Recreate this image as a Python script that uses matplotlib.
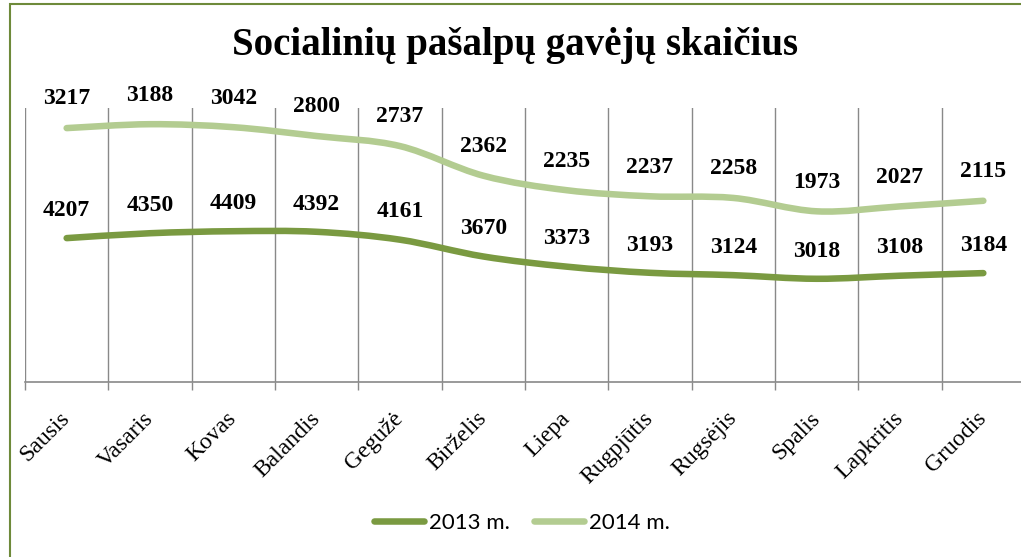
import numpy as np
import matplotlib
matplotlib.use("Agg")
import matplotlib.pyplot as plt
from matplotlib.path import Path
from matplotlib.patches import PathPatch, Rectangle
from matplotlib.lines import Line2D

# Chart data
months = ["Sausis", "Vasaris", "Kovas", "Balandis", "Gegužė", "Birželis",
          "Liepa", "Rugpjūtis", "Rugsėjis", "Spalis", "Lapkritis", "Gruodis"]
values_2013 = [4207, 4350, 4409, 4392, 4161, 3670, 3373, 3193, 3124, 3018, 3108, 3184]
values_2014 = [3217, 3188, 3042, 2800, 2737, 2362, 2235, 2237, 2258, 1973, 2027, 2115]
series_names = ["2013 m.", "2014 m."]

color_2013 = "#7A9A41"
color_2014 = "#B3CC91"
serif = "Liberation Serif"


def smooth_path(xs, ys):
    # Catmull-Rom style bezier through the points (Excel "smoothed line")
    xs = np.asarray(xs, float)
    ys = np.asarray(ys, float)
    verts = [(xs[0], ys[0])]
    codes = [Path.MOVETO]
    n = len(xs)
    for i in range(n - 1):
        x0, y0 = (xs[i - 1], ys[i - 1]) if i > 0 else (xs[i], ys[i])
        x1, y1 = xs[i], ys[i]
        x2, y2 = xs[i + 1], ys[i + 1]
        x3, y3 = (xs[i + 2], ys[i + 2]) if i + 2 < n else (x2, y2)
        c1 = (x1 + (x2 - x0) / 6, y1 + (y2 - y0) / 6)
        c2 = (x2 - (x3 - x1) / 6, y2 - (y3 - y1) / 6)
        verts += [c1, c2, (x2, y2)]
        codes += [Path.CURVE4] * 3
    return Path(verts, codes)


fig = plt.figure(figsize=(10.21, 5.57), dpi=100)
ax = fig.add_axes([25 / 1021, 175 / 557, 1000 / 1021, 273.6 / 557])

x = np.arange(len(months)) + 0.5
stack_2013 = np.array(values_2013)
stack_2014 = stack_2013 + np.array(values_2014)

for ys, col in [(stack_2013, color_2013), (stack_2014, color_2014)]:
    patch = PathPatch(smooth_path(x, ys), facecolor="none", edgecolor=col,
                      lw=4.7, capstyle="round", joinstyle="round", zorder=3)
    ax.add_patch(patch)

# data labels
for xi, yi, v in zip(x, stack_2013, values_2013):
    ax.annotate(str(v), (xi, yi), xytext=(0, 20), textcoords="offset points",
                ha="center", va="center", fontsize=17, fontweight="bold",
                family=serif, zorder=4)
for xi, yi, v in zip(x, stack_2014, values_2014):
    ax.annotate(str(v), (xi, yi), xytext=(0, 21), textcoords="offset points",
                ha="center", va="center", fontsize=17, fontweight="bold",
                family=serif, zorder=4)

ax.set_xlim(0, len(months))
ax.set_ylim(0, 8000)

# category boundaries: ticks + vertical gridlines
ax.set_xticks(np.arange(len(months) + 1))
ax.set_xticklabels([])
ax.tick_params(axis="x", which="major", length=6, width=1, color="#898989", direction="out")
ax.xaxis.grid(True, which="major", color="#898989", lw=1)
ax.set_xticks(x, minor=True)
ax.set_xticklabels(months, minor=True, rotation=45, ha="right", va="center",
                   rotation_mode="anchor", fontsize=17, family=serif)
ax.tick_params(axis="x", which="minor", length=0, pad=24)
ax.set_yticks([])
for side in ["top", "right", "left"]:
    ax.spines[side].set_visible(False)
ax.spines["bottom"].set_color("#898989")
ax.spines["bottom"].set_linewidth(1.2)
ax.set_axisbelow(True)

fig.text(515 / 1021, 1 - 45 / 557, "Socialinių pašalpų gavėjų skaičius",
         ha="center", va="center", fontsize=28, fontweight="bold", family=serif)

handles = [Line2D([], [], color=color_2013, lw=4.7, solid_capstyle="round"),
           Line2D([], [], color=color_2014, lw=4.7, solid_capstyle="round")]
fig.legend(handles, series_names, loc="center", bbox_to_anchor=(522 / 1021, 1 - 523 / 557),
           ncol=2, frameon=False, handlelength=2.25, handletextpad=0.2,
           columnspacing=1.1, prop={"family": "Lato", "size": 16})

# chart border (right/bottom edges fall outside the picture)
fig.patches.append(Rectangle((10 / 1021, -0.05), 1.1, 1 - 4 / 557 + 0.05,
                             transform=fig.transFigure, fill=False,
                             edgecolor="#6E8A3A", lw=1.5))

fig.savefig("out.png", dpi=100)
